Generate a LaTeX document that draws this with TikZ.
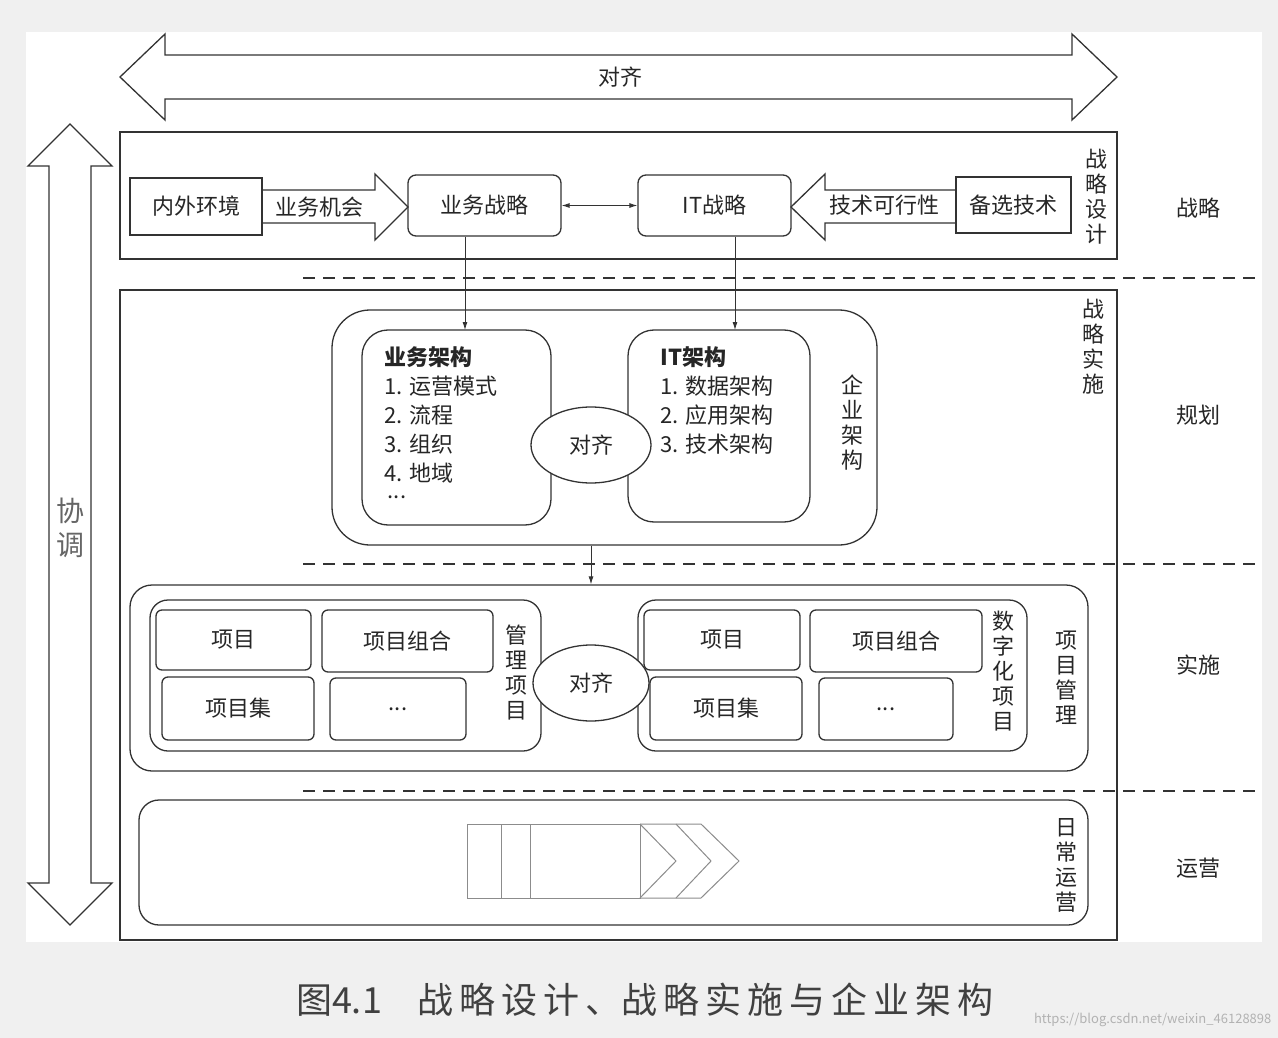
\documentclass[tikz,border=0pt]{standalone}
\usepackage{fontspec}
\setmainfont{Noto Sans CJK SC}
\usetikzlibrary{shapes.geometric,arrows.meta}
\begin{document}
\begin{tikzpicture}[x=1pt,y=-1pt,line width=1.3pt,draw=black!80,
  lab/.style={font=\fontsize{22}{26}\selectfont,inner sep=0pt,align=center,text=black!85},
  box/.style={draw=black!80,lab,line width=1.3pt},
  rbox/.style={box,rounded corners=8pt},
  vlab/.style={lab,font=\fontsize{22}{25}\selectfont},
  conn/.style={-{Latex[length=8pt,width=5pt]},line width=0.9pt}]
\useasboundingbox (0,0) rectangle (1278,1038);
\fill[black!6] (0,0) rectangle (1278,1038);
\fill[white] (26,32) rectangle (1262,942);
% top double arrow
\draw[line join=miter] (120,77) -- (165,34) -- (165,55) -- (1072,55) -- (1072,34) -- (1117,77) -- (1072,120) -- (1072,99) -- (165,99) -- (165,120) -- cycle;
\node[lab] (align0) at (620,77) {对齐};
% left vertical double arrow
\draw (70,124) -- (112,166) -- (91,166) -- (91,883) -- (112,883) -- (70,925) -- (28,883) -- (49,883) -- (49,166) -- (28,166) -- cycle;
\node[vlab,font=\fontsize{28}{34}\selectfont,text=black!60] (xt) at (70,528) {协\\调};
% strategy design
\draw (120,132) rectangle (1117,259);
\node[vlab] (zlsj) at (1096,197) {战\\略\\设\\计};
\node[box,minimum width=132pt,minimum height=57pt] (nwhj) at (196,206.5) {内外环境};
\draw (262,190) -- (375,190) -- (375,174) -- (408,207) -- (375,240) -- (375,223) -- (262,223);
\node[lab] (ywjh) at (319,207) {业务机会};
\node[rbox,minimum width=153pt,minimum height=61pt] (ywzl) at (484.5,205.5) {业务战略};
\node[rbox,minimum width=153pt,minimum height=61pt] (itzl) at (714.5,205.5) {IT战略};
\draw[{Latex[length=8pt,width=5pt]}-{Latex[length=8pt,width=5pt]},line width=0.9pt] (ywzl) -- (itzl);
\draw (956,190) -- (825,190) -- (825,174) -- (791,207) -- (825,240) -- (825,223) -- (956,223);
\node[lab] (jskx) at (884,205) {技术可行性};
\node[box,minimum width=115pt,minimum height=56pt] (bxjs) at (1013.5,205) {备选技术};
% dashed lines
\draw[dash pattern=on 12pt off 8pt,line width=1.3pt] (303,278) -- (1262,278);
\draw[dash pattern=on 12pt off 8pt,line width=1.3pt] (303,564) -- (1262,564);
\draw[dash pattern=on 12pt off 8pt,line width=1.3pt] (303,791) -- (1262,791);
% implementation big box
\draw (120,290) rectangle (1117,940);
\node[vlab] (zlss) at (1093,347) {战\\略\\实\\施};
\node[rbox,rounded corners=38pt,minimum width=545pt,minimum height=235pt] (qyjg) at (604.5,427.5) {};
\node[vlab] (qyjgl) at (852,423) {企\\业\\架\\构};
\node[rbox,rounded corners=26pt,minimum width=189pt,minimum height=195pt] (ywjg) at (456.5,427.5) {};
\node[lab,anchor=north west,align=left,font=\fontsize{22}{29}\selectfont] (ywjgt) at (384,346) {\textbf{业务架构}\\1. 运营模式\\2. 流程\\3. 组织\\4. 地域};
\node[lab] (dots1) at (397,497) {...};
\node[rbox,rounded corners=26pt,minimum width=182pt,minimum height=192pt] (itjg) at (719,426) {};
\node[lab,anchor=north west,align=left,font=\fontsize{22}{29}\selectfont] (itjgt) at (660,346) {\textbf{IT架构}\\1. 数据架构\\2. 应用架构\\3. 技术架构};
\node[box,ellipse,fill=white,minimum width=120pt,minimum height=76pt] (dq1) at (591,445) {对齐};
\draw[conn] (ywzl.south -| 465,0) -- (465,330);
\draw[conn] (itzl.south -| 735,0) -- (735,330);
% project management
\node[rbox,rounded corners=22pt,minimum width=958pt,minimum height=186pt] (xmgl) at (609,678) {};
\draw[conn] (qyjg.south -| 591,0) -- (xmgl.north -| 591,0);
\node[vlab] (xmgll) at (1066,678) {项\\目\\管\\理};
\node[rbox,rounded corners=18pt,minimum width=391pt,minimum height=151pt] (glxm) at (345.5,675.5) {};
\node[vlab] (glxml) at (516,673) {管\\理\\项\\目};
\node[rbox,rounded corners=18pt,minimum width=389pt,minimum height=151pt] (szxm) at (832.5,675.5) {};
\node[vlab] (szxml) at (1003,671) {数\\字\\化\\项\\目};
\tikzset{sb/.style={rbox,rounded corners=6pt}}
\node[sb,minimum width=155pt,minimum height=60pt] (a1) at (233.5,640) {项目};
\node[sb,minimum width=171pt,minimum height=62pt] (a2) at (407.5,641) {项目组合};
\node[sb,minimum width=152pt,minimum height=63pt] (a3) at (238,708.5) {项目集};
\node[sb,minimum width=136pt,minimum height=62pt] (a4) at (398,709) {...};
\node[sb,minimum width=156pt,minimum height=60pt] (b1) at (722,640) {项目};
\node[sb,minimum width=172pt,minimum height=62pt] (b2) at (896,641) {项目组合};
\node[sb,minimum width=152pt,minimum height=63pt] (b3) at (726,708.5) {项目集};
\node[sb,minimum width=134pt,minimum height=62pt] (b4) at (886,709) {...};
\node[box,ellipse,fill=white,minimum width=116pt,minimum height=76pt] (dq2) at (591,683) {对齐};
% operations
\node[rbox,rounded corners=20pt,minimum width=949pt,minimum height=125pt] (rcyy) at (613.5,862.5) {};
\node[vlab] (rcyyl) at (1066,865) {日\\常\\运\\营};
\begin{scope}[draw=black!45,line width=1pt]
\draw (467,824) rectangle (640,898);
\draw (501,824) -- (501,898) (530,824) -- (530,898);
\draw (640,824) -- (676,861) -- (640,898);
\draw (676,824) -- (711,861) -- (676,898);
\draw (640,824) -- (701,824) -- (739,861) -- (701,898) -- (640,898);
\end{scope}
% right labels
\node[lab] (r1) at (1198,208) {战略};
\node[lab] (r2) at (1198,415) {规划};
\node[lab] (r3) at (1198,665) {实施};
\node[lab] (r4) at (1198,868) {运营};
% caption
\node[lab,font=\fontsize{36}{40}\selectfont,text=black!75] (cap) at (645,1000) {图4.1\quad 战\,略\,设\,计\,、战\,略\,实\,施\,与\,企\,业\,架\,构};
\node[lab,font=\fontsize{13}{15}\selectfont,text=black!30,anchor=east] (wm) at (1272,1020) {https://blog.csdn.net/weixin\_46128898};
\end{tikzpicture}
\end{document}
